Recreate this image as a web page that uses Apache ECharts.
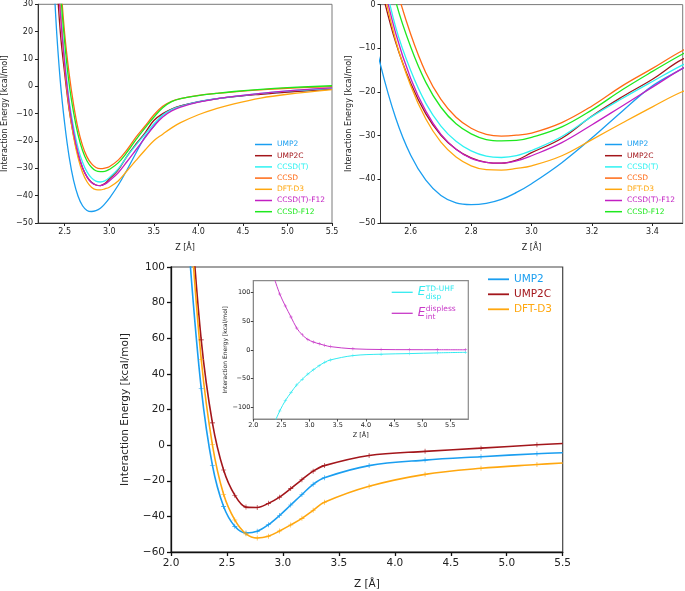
<!DOCTYPE html>
<html><head><meta charset="utf-8">
<script src="https://cdn.jsdelivr.net/npm/echarts@6/dist/echarts.min.js"></script>
<style>html,body{margin:0;padding:0;background:#fff}#c{width:685px;height:591px}</style>
</head><body><div id="c"></div>
<script>
// ---------- top panels (full view and zoomed view share the same curves) ----------
const zTop = [2.35, 2.4, 2.45, 2.5, 2.55, 2.6, 2.65, 2.7, 2.75, 2.8, 2.85, 2.9, 2.95, 3.0, 3.1, 3.2, 3.3, 3.4, 3.5, 3.6, 3.7, 3.8, 4.0, 4.2, 4.4, 4.7, 5.0, 5.5];
const topUMP2      = [60, 25, 2, -13.8, -25.9, -34.5, -40.2, -43.7, -45.4, -45.8, -45.5, -44.6, -43.0, -41.0, -36.2, -30.5, -24.4, -18.6, -14.6, -10.5, -8.4, -7.2, -5.6, -4.5, -3.8, -2.8, -2.0, -1.0];
const topUMP2C     = [80, 45, 20, 4.5, -8.6, -18.0, -25.0, -29.9, -33.1, -35.1, -36.1, -36.3, -35.6, -33.9, -30.6, -25.5, -21.1, -17.1, -12.5, -10.0, -8.3, -7.2, -5.7, -4.6, -3.8, -2.9, -2.1, -1.0];
const topCCSDT     = [95, 55, 30, 10, -5.1, -15.1, -22.6, -27.8, -31.3, -33.5, -34.7, -35.0, -34.6, -33.4, -30.2, -25.6, -21.5, -17.6, -13.8, -10.5, -8.5, -7.3, -5.7, -4.6, -3.7, -2.6, -1.7, -0.7];
const topCCSD      = [110, 68, 40, 19, 4.5, -6.8, -15.6, -21.7, -25.8, -28.3, -29.7, -30.1, -29.9, -29.4, -27.0, -23.2, -18.6, -14.6, -10.5, -7.3, -5.5, -4.5, -3.3, -2.6, -2.0, -1.3, -0.7, -0.1];
const topDFTD3     = [95, 55, 29, 7, -8.1, -18.6, -26.2, -31.5, -34.9, -36.9, -37.8, -37.9, -37.5, -36.9, -34.6, -30.9, -27.1, -23.4, -19.9, -17.5, -15.2, -13.3, -10.4, -8.2, -6.4, -4.3, -2.9, -1.2];
const topCCSDTF12  = [90, 52, 27, 8, -6.5, -16.9, -24.4, -29.7, -33.1, -35.2, -36.1, -36.3, -35.8, -34.6, -31.6, -27.5, -23.2, -18.9, -14.6, -11.2, -9.0, -7.6, -5.8, -4.6, -3.7, -2.6, -1.7, -0.6];
const topCCSDF12   = [105, 62, 36, 16, 0.8, -9.7, -17.8, -23.5, -27.3, -29.6, -30.9, -31.2, -31.1, -30.4, -28.0, -24.1, -19.5, -15.3, -11.3, -7.8, -5.6, -4.5, -3.4, -2.6, -1.9, -1.1, -0.5, 0.2];

// ---------- bottom main panel ----------
const zMain = [2.17, 2.27, 2.37, 2.47, 2.57, 2.67, 2.77, 2.87, 2.97, 3.07, 3.17, 3.27, 3.37, 3.77, 4.27, 4.77, 5.27, 5.5];
const mainUMP2  = [103, 31.9, -11.3, -34.5, -45.6, -49.3, -48.4, -44.7, -39.5, -33.6, -27.7, -22.0, -18.3, -11.5, -8.4, -6.5, -4.8, -4.3];
const mainUMP2C = [138, 59.1, 12.5, -14.0, -28.1, -34.8, -35.0, -32.7, -29.2, -24.4, -19.4, -14.6, -11.5, -5.8, -3.5, -1.7, 0.2, 0.9];
const mainDFTD3 = [128, 48.2, 0.2, -27.6, -42.0, -49.8, -52.1, -51.1, -48.2, -44.8, -41.1, -36.6, -32.1, -23.1, -16.4, -13.0, -10.9, -10.0];
const mainUnmarked = [0, 17]; // indices of edge points drawn without a marker

// ---------- inset ----------
const zInset = [2.37, 2.47, 2.57, 2.67, 2.77, 2.87, 2.97, 3.07, 3.17, 3.27, 3.37, 3.77, 4.27, 4.77, 5.27, 5.77];
const insetDisp     = [-128, -106, -88, -74, -61, -51, -42, -34.5, -27.5, -21.5, -17.5, -10, -7.5, -6.5, -5.2, -4.3];
const insetDispless = [125, 97, 76, 57, 38, 26, 18, 13.5, 10.5, 7.8, 5.6, 1.8, 0.6, 0.3, 0.2, 0.1];

// ---------- ticks ----------
const topLeftXTicks  = [2.5, 3.0, 3.5, 4.0, 4.5, 5.0, 5.5];
const topRightXTicks = [2.6, 2.8, 3.0, 3.2, 3.4];
const insetXTicks    = [2.0, 2.5, 3.0, 3.5, 4.0, 4.5, 5.0, 5.5];
const insetYTicks    = [-100, -50, 0, 50, 100];

const COL = {
  'UMP2': '#1a9ef0', 'UMP2C': '#a3161b', 'CCSD(T)': '#2ef2f2', 'CCSD': '#ff6a14',
  'DFT-D3': '#ffa70f', 'CCSD(T)-F12': '#c21fc2', 'CCSD-F12': '#1ee81e',
  'disp': '#33eaf0', 'displess': '#c83ac8'
};
const FONT = 'DejaVu Sans';
const zip = (xs, ys) => xs.map((x, i) => [x, ys[i]]);
const neg = v => (v < 0 ? '\u2212' : '') + Math.abs(v);
const f1 = v => (v < 0 ? '\u2212' : '') + Math.abs(v).toFixed(1);
const plus = 'path://M0,2.2H5V2.8H0Z M2.2,0H2.8V5H2.2Z';

const topSets = [
  ['UMP2', topUMP2], ['UMP2C', topUMP2C], ['CCSD(T)', topCCSDT], ['CCSD', topCCSD],
  ['DFT-D3', topDFTD3], ['CCSD(T)-F12', topCCSDTF12], ['CCSD-F12', topCCSDF12]
];

const series = [];
[0, 1].forEach(gi => {
  topSets.forEach(([name, ys]) => {
    series.push({
      name, type: 'line', xAxisIndex: gi, yAxisIndex: gi, data: zip(zTop, ys),
      smooth: 0.4, showSymbol: false, clip: true,
      lineStyle: { color: COL[name], width: 1.3 }, itemStyle: { color: COL[name] },
      emphasis: { disabled: true }, animation: false
    });
  });
});
[['UMP2', mainUMP2], ['UMP2C', mainUMP2C], ['DFT-D3', mainDFTD3]].forEach(([name, ys]) => {
  series.push({
    name, type: 'line', xAxisIndex: 2, yAxisIndex: 2,
    data: zMain.map((x, i) => mainUnmarked.includes(i) ? { value: [x, ys[i]], symbol: 'none' } : [x, ys[i]]),
    smooth: 0.35, symbol: plus, symbolSize: 5, showAllSymbol: true, clip: true,
    lineStyle: { color: COL[name], width: 1.6 }, itemStyle: { color: COL[name], borderWidth: 0 },
    emphasis: { disabled: true }, animation: false, z: 3
  });
});
[['disp', insetDisp], ['displess', insetDispless]].forEach(([name, ys]) => {
  series.push({
    name, type: 'line', xAxisIndex: 3, yAxisIndex: 3,
    data: zInset.map((x, i) => i === 0 ? { value: [x, ys[i]], symbol: 'none' } : [x, ys[i]]),
    smooth: 0.35, symbol: plus, symbolSize: 3.5, showAllSymbol: true, clip: true,
    lineStyle: { color: COL[name], width: 1 }, itemStyle: { color: COL[name], borderWidth: 0 },
    emphasis: { disabled: true }, animation: false, z: 12, zlevel: 0
  });
});

const txt = (size) => ({ fontFamily: FONT, fontSize: size, color: '#222' });
function xAx(gi, o) {
  return Object.assign({
    type: 'value', gridIndex: gi, splitLine: { show: false },
    axisLine: { show: true, onZero: false, lineStyle: { color: '#333', width: 1 } },
    axisTick: { show: true, length: 3.5, lineStyle: { color: '#222' } },
    nameLocation: 'middle'
  }, o);
}

const option = {
  backgroundColor: '#fff',
  animation: false,
  grid: [
    { left: 36, top: 4.3, width: 296, height: 218.7, show: true, borderColor: '#7a7a7a', borderWidth: 1 },
    { left: 380.5, top: 4.6, width: 302.2, height: 218.4, show: true, borderColor: '#7a7a7a', borderWidth: 1 },
    { left: 171, top: 267, width: 391.7, height: 289, show: true, borderColor: '#444', borderWidth: 1.2 },
    { left: 253.3, top: 280.7, width: 215, height: 138.3, show: true, borderColor: '#8a8a8a', borderWidth: 1.2, backgroundColor: '#fff', z: 10 }
  ],
  xAxis: [
    xAx(0, { min: 2.2, max: 5.5, name: 'Z [Å]', nameGap: 21, nameTextStyle: txt(8),
      axisTick: { show: true, length: 3, customValues: topLeftXTicks, lineStyle: { color: '#222' } },
      axisLabel: Object.assign(txt(8), { customValues: topLeftXTicks, formatter: f1, margin: 5 }) }),
    xAx(1, { min: 2.5, max: 3.5, name: 'Z [Å]', nameGap: 21, nameTextStyle: txt(8),
      axisTick: { show: true, length: 3, customValues: topRightXTicks, lineStyle: { color: '#222' } },
      axisLabel: Object.assign(txt(8), { customValues: topRightXTicks, formatter: f1, margin: 5 }) }),
    xAx(2, { min: 2, max: 5.5, interval: 0.5, name: 'Z [Å]', nameGap: 27, nameTextStyle: txt(10.5),
      axisLine: { show: true, onZero: false, lineStyle: { color: '#111', width: 1.3 } },
      axisTick: { show: true, length: 4, lineStyle: { color: '#111', width: 1.3 } },
      axisLabel: Object.assign(txt(10.5), { formatter: f1, margin: 6 }) }),
    xAx(3, { min: 2, max: 5.82, name: 'Z [Å]', nameGap: 13, nameTextStyle: txt(6.5), z: 10,
      axisLine: { show: true, onZero: false, lineStyle: { color: '#888', width: 1 } },
      axisTick: { show: true, length: 2.5, customValues: insetXTicks, lineStyle: { color: '#444' } },
      axisLabel: Object.assign(txt(6.5), { customValues: insetXTicks, formatter: f1, margin: 3 }) })
  ],
  yAxis: [
    xAx(0, { min: -50, max: 30, interval: 10, name: 'Interaction Energy [kcal/mol]', nameGap: 29, nameTextStyle: txt(8),
      axisTick: { show: true, length: 3, lineStyle: { color: '#222' } },
      axisLabel: Object.assign(txt(8), { formatter: neg, margin: 5 }) }),
    xAx(1, { min: -50, max: 0, interval: 10, name: 'Interaction Energy [kcal/mol]', nameGap: 28, nameTextStyle: txt(8),
      axisTick: { show: true, length: 3, lineStyle: { color: '#222' } },
      axisLabel: Object.assign(txt(8), { formatter: neg, margin: 5 }) }),
    xAx(2, { min: -60, max: 100, interval: 20, name: 'Interaction Energy [kcal/mol]', nameGap: 40, nameTextStyle: txt(10.5),
      axisLine: { show: true, onZero: false, lineStyle: { color: '#111', width: 1.3 } },
      axisTick: { show: true, length: 4, lineStyle: { color: '#111', width: 1.3 } },
      axisLabel: Object.assign(txt(10.5), { formatter: neg, margin: 6 }) }),
    xAx(3, { min: -120, max: 120, name: 'Interaction Energy [kcal/mol]', nameGap: 25, nameTextStyle: txt(6), z: 10,
      axisLine: { show: true, onZero: false, lineStyle: { color: '#888', width: 1 } },
      axisTick: { show: true, length: 2.5, customValues: insetYTicks, lineStyle: { color: '#444' } },
      axisLabel: Object.assign(txt(6.5), { customValues: insetYTicks, formatter: neg, margin: 3 }) })
  ],
  legend: [
    { left: 255, top: 139.5, orient: 'vertical', padding: 0, itemGap: 1.2, itemWidth: 17, itemHeight: 1.5, icon: 'rect',
      textStyle: { fontFamily: FONT, fontSize: 7.5, lineHeight: 10 }, selectedMode: false,
      data: topSets.map(([n]) => ({ name: n, textStyle: { color: COL[n] } })) },
    { left: 605, top: 139.5, orient: 'vertical', padding: 0, itemGap: 1.2, itemWidth: 17, itemHeight: 1.5, icon: 'rect',
      textStyle: { fontFamily: FONT, fontSize: 7.5, lineHeight: 10 }, selectedMode: false,
      data: topSets.map(([n]) => ({ name: n, textStyle: { color: COL[n] } })) },
    { left: 488, top: 272.8, orient: 'vertical', padding: 0, itemGap: 2, itemWidth: 21, itemHeight: 1.8, icon: 'rect',
      textStyle: { fontFamily: FONT, fontSize: 10.5, lineHeight: 13 }, selectedMode: false,
      data: ['UMP2', 'UMP2C', 'DFT-D3'].map(n => ({ name: n, textStyle: { color: COL[n] } })) },
    { left: 391.7, top: 285.3, orient: 'vertical', padding: 0, itemGap: 7, itemWidth: 21, itemHeight: 1.3, icon: 'rect', z: 12,
      textStyle: { fontFamily: FONT, fontSize: 12, fontStyle: 'italic', lineHeight: 14 }, selectedMode: false,
      formatter: () => 'E',
      data: ['disp', 'displess'].map(n => ({ name: n, textStyle: { color: COL[n] } })) }
  ],
  graphic: [
    { type: 'text', x: 425.7, y: 289.2, z: 100, style: { text: 'TD-UHF', fontFamily: FONT, fontSize: 7.5, fill: COL.disp, verticalAlign: 'middle' } },
    { type: 'text', x: 425.7, y: 297.2, z: 100, style: { text: 'disp', fontFamily: FONT, fontSize: 7.5, fill: COL.disp, verticalAlign: 'middle' } },
    { type: 'text', x: 425.7, y: 308.8, z: 100, style: { text: 'displess', fontFamily: FONT, fontSize: 7.5, fill: COL.displess, verticalAlign: 'middle' } },
    { type: 'text', x: 425.7, y: 317.4, z: 100, style: { text: 'int', fontFamily: FONT, fontSize: 7.5, fill: COL.displess, verticalAlign: 'middle' } }
  ],
  series
};
const chart = echarts.init(document.getElementById('c'), null, { renderer: 'canvas' });
chart.setOption(option);
</script></body></html>
